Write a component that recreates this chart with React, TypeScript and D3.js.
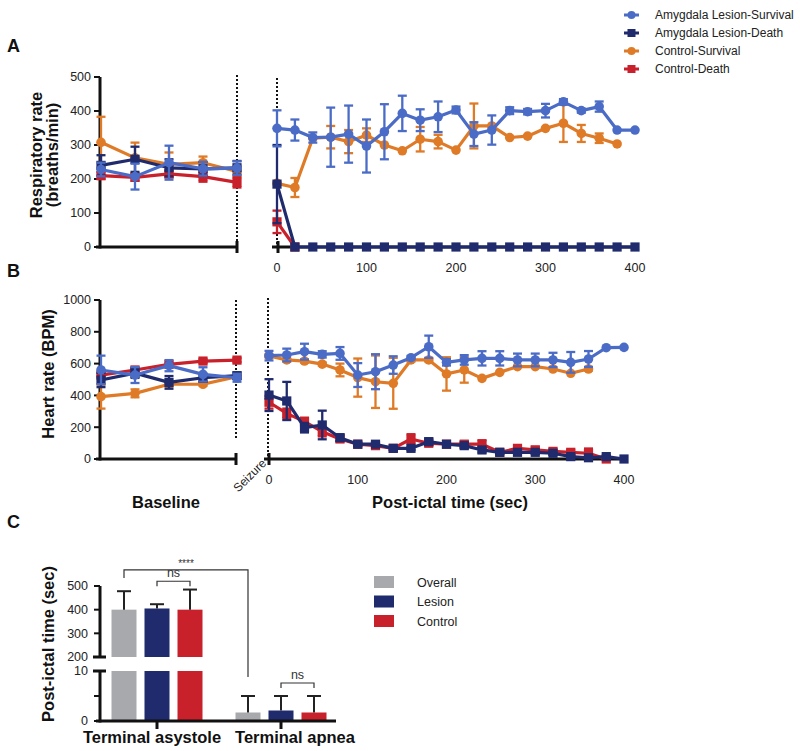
import React from 'react';
import * as d3 from 'd3';

const FONT = 'Liberation Sans, Arial, Helvetica, sans-serif';

const BLUE = '#4b6cc6';
const NAVY = '#1f2b6c';
const ORANGE = '#df7a27';
const RED = '#c9212b';
const GRAY = '#a8a9ad';

// x positions: 5 baseline samples, post-ictal samples every 20 s
const baselinePts = ['b1', 'b2', 'b3', 'b4', 'b5'];
const postTimes = [0, 20, 40, 60, 80, 100, 120, 140, 160, 180, 200, 220, 240, 260, 280, 300, 320, 340, 360, 380, 400];
const postTicks = [0, 100, 200, 300, 400];

// ---- Panel A: respiratory rate (breaths/min)
const lesSurvRespBase = [228, 207, 248, 230, 232];
const lesSurvRespBaseErr = [20, 38, 50, 20, 20];
const lesDeathRespBase = [240, 258, 233, 230, 233];
const lesDeathRespBaseErr = [30, 37, 25, 20, 20];
const ctlSurvRespBase = [308, 262, 243, 248, 222];
const ctlSurvRespBaseErr = [75, 45, 35, 18, 15];
const ctlDeathRespBase = [210, 205, 215, 207, 190];
const ctlDeathRespBaseErr = [10, 10, 10, 15, 15];

const lesSurvRespPost = [349, 344, 322, 323, 332, 297, 339, 393, 373, 383, 403, 332, 344, 401, 398, 401, 427, 401, 413, 344, 344];
const lesSurvRespPostErr = [53, 31, 15, 87, 84, 78, 81, 52, 32, 45, 10, 35, 43, 10, 8, 20, 8, 6, 15, 0, 0];
const ctlSurvRespPost = [187, 175, 320, 323, 310, 329, 300, 283, 317, 310, 285, 356, 356, 322, 326, 349, 364, 334, 320, 303];
const ctlSurvRespPostErr = [0, 28, 0, 33, 34, 20, 0, 0, 36, 20, 0, 66, 0, 0, 0, 0, 55, 25, 14, 0];
const lesDeathRespPost = [185, 0, 0, 0, 0, 0, 0, 0, 0, 0, 0, 0, 0, 0, 0, 0, 0, 0, 0, 0, 0];
const lesDeathRespPostErr = [115, 0, 0, 0, 0, 0, 0, 0, 0, 0, 0, 0, 0, 0, 0, 0, 0, 0, 0, 0, 0];
const ctlDeathRespPost = [74, 0];
const ctlDeathRespPostErr = [33, 0];

// ---- Panel B: heart rate (BPM)
const lesSurvHRBase = [560, 528, 587, 532, 511];
const lesSurvHRBaseErr = [90, 50, 35, 45, 25];
const lesDeathHRBase = [497, 540, 482, 511, 524];
const lesDeathHRBaseErr = [45, 30, 40, 25, 20];
const ctlSurvHRBase = [392, 413, 470, 470, 518];
const ctlSurvHRBaseErr = [75, 25, 15, 10, 10];
const ctlDeathHRBase = [528, 560, 595, 616, 622];
const ctlDeathHRBaseErr = [10, 10, 10, 12, 12];

const lesSurvHRPost = [650, 654, 675, 658, 664, 528, 549, 591, 637, 706, 608, 623, 633, 633, 623, 623, 623, 608, 629, 700, 702];
const lesSurvHRPostErr = [30, 40, 50, 20, 40, 75, 110, 55, 10, 70, 20, 30, 45, 45, 40, 40, 45, 65, 50, 0, 0];
const ctlSurvHRPost = [648, 623, 616, 597, 560, 512, 486, 476, 623, 623, 535, 560, 507, 545, 581, 581, 566, 539, 566];
const ctlSurvHRPostErr = [10, 10, 10, 10, 40, 120, 165, 160, 10, 10, 105, 80, 0, 0, 0, 0, 0, 0, 10];
const ctlDeathHRPost = [357, 287, 235, 172, 126, 93, 84, 67, 126, 99, 93, 93, 93, 42, 67, 57, 48, 42, 36, 0];
const ctlDeathHRPostErr = [40, 30, 25, 30, 15, 10, 10, 10, 30, 15, 15, 20, 25, 10, 20, 20, 15, 15, 30, 10];
const lesDeathHRPost = [402, 365, 197, 214, 134, 93, 93, 67, 67, 109, 93, 84, 57, 42, 42, 42, 36, 15, 8, 15, 0];
const lesDeathHRPostErr = [100, 120, 30, 90, 20, 10, 10, 10, 10, 20, 15, 15, 15, 10, 10, 10, 10, 10, 10, 5, 0];

// ---- Panel C: time of terminal event
const cGroups = ['Terminal asystole', 'Terminal apnea'];
const cKeys = ['Overall', 'Lesion', 'Control'];
const overallTime = [400, 1.7];
const overallErr = [78, 3.3];
const lesionTime = [405, 2.1];
const lesionErr = [18, 2.9];
const controlTime = [400, 1.7];
const controlErr = [85, 3.3];

const legendNames = ['Amygdala Lesion-Survival', 'Amygdala Lesion-Death', 'Control-Survival', 'Control-Death'];

function Series({ xs, vals, errs, x, y, color, shape }) {
  const pts = vals.map((v, i) => ({
    x: x(xs[i]), y: y(v), e: errs[i],
    hi: y(v + errs[i]), lo: y(Math.max(0, v - errs[i])),
  }));
  const line = d3.line().x(d => d.x).y(d => d.y);
  return (
    <g>
      {pts.map((p, i) => p.e > 0 && (
        <g key={'e' + i} stroke={color} strokeWidth={2.3}>
          <line x1={p.x} x2={p.x} y1={p.lo} y2={p.hi} />
          <line x1={p.x - 4.5} x2={p.x + 4.5} y1={p.hi} y2={p.hi} />
          <line x1={p.x - 4.5} x2={p.x + 4.5} y1={p.lo} y2={p.lo} />
        </g>
      ))}
      <path d={line(pts)} fill="none" stroke={color} strokeWidth={3.2} strokeLinejoin="round" />
      {pts.map((p, i) => shape === 'circle'
        ? <circle key={'m' + i} cx={p.x} cy={p.y} r={4.8} fill={color} />
        : <rect key={'m' + i} x={p.x - 4.6} y={p.y - 4.6} width={9.2} height={9.2} fill={color} />)}
    </g>
  );
}

function YAxis({ y, ticks, x0 }) {
  const [a, b] = y.range();
  return (
    <g fontFamily={FONT} fontSize={12.5} fill="#222">
      <line x1={x0} x2={x0} y1={a + 1.5} y2={b} stroke="#111" strokeWidth={3} />
      {ticks.map(t => (
        <g key={t}>
          <line x1={x0 - 6} x2={x0} y1={y(t)} y2={y(t)} stroke="#111" strokeWidth={2} />
          <text x={x0 - 9} y={y(t)} dy="0.35em" textAnchor="end">{t}</text>
        </g>
      ))}
    </g>
  );
}

function Panel({ y, yTicks, xPost, baseline, post, dotTop, baseAxisEnd, postAxisStart, postCap, labelY }) {
  const xBase = d3.scalePoint().domain(baselinePts).range([101, 237]);
  const y0 = y(0);
  const order = [2, 3, 1, 0];
  const colors = [BLUE, NAVY, ORANGE, RED];
  const shapes = ['circle', 'square', 'circle', 'square'];
  return (
    <g>
      <YAxis y={y} ticks={yTicks} x0={100} />
      <line x1={96} x2={baseAxisEnd} y1={y0} y2={y0} stroke="#111" strokeWidth={3} />
      <line x1={baseAxisEnd} x2={baseAxisEnd} y1={y0 - 6} y2={y0 + 6} stroke="#111" strokeWidth={3} />
      <line x1={baseAxisEnd} x2={baseAxisEnd} y1={dotTop[0]} y2={dotTop[1]} stroke="#111" strokeWidth={2} strokeDasharray="2,2" />
      <line x1={postAxisStart - 5} x2={xPost(400) + 2} y1={y0} y2={y0} stroke="#111" strokeWidth={3} />
      <line x1={postCap} x2={postCap} y1={y0 - 6} y2={y0 + 6} stroke="#111" strokeWidth={3} />
      <line x1={postCap - 1} x2={postCap - 1} y1={dotTop[2]} y2={y0} stroke="#111" strokeWidth={2} strokeDasharray="2,2" />
      {postTicks.map(t => (
        <text key={t} x={xPost(t)} y={labelY} textAnchor="middle" fontFamily={FONT} fontSize={12.5} fill="#222">{t}</text>
      ))}
      {order.map(k => (
        <g key={k}>
          <Series xs={baselinePts} vals={baseline[k][0]} errs={baseline[k][1]} x={xBase} y={y} color={colors[k]} shape={shapes[k]} />
          <Series xs={postTimes} vals={post[k][0]} errs={post[k][1]} x={xPost} y={y} color={colors[k]} shape={shapes[k]} />
        </g>
      ))}
    </g>
  );
}

function PanelC() {
  const yLow = d3.scaleLinear().domain([0, 10]).range([721, 671]);
  const yHigh = d3.scaleLinear().domain([200, 500]).range([657, 586]);
  const xg = d3.scaleBand().domain(cGroups).range([95, 343]);
  const xi = d3.scaleBand().domain(cKeys).range([16.5, 107.5]).paddingInner(8 / 33).paddingOuter(0);
  const vals = [overallTime, lesionTime, controlTime];
  const errs = [overallErr, lesionErr, controlErr];
  const colors = [GRAY, NAVY, RED];
  const yv = v => (v > 10 ? yHigh(v) : yLow(v));
  const cx = (g, k) => xg(g) + xi(k) + xi.bandwidth() / 2;
  const bars = [];
  cGroups.forEach((g, gi) => cKeys.forEach((k, ki) => {
    const v = vals[ki][gi];
    const e = errs[ki][gi];
    const x0 = xg(g) + xi(k);
    const w = xi.bandwidth();
    const c = cx(g, k);
    bars.push(
      <g key={g + k}>
        {v > 10 ? (
          <>
            <rect x={x0} y={yLow(10)} width={w} height={yLow(0) - yLow(10)} fill={colors[ki]} />
            <rect x={x0} y={yHigh(v)} width={w} height={yHigh(200) - yHigh(v)} fill={colors[ki]} />
          </>
        ) : (
          <rect x={x0} y={yLow(v)} width={w} height={yLow(0) - yLow(v)} fill={colors[ki]} />
        )}
        <line x1={c} x2={c} y1={yv(v)} y2={yv(v + e)} stroke="#222" strokeWidth={2} />
        <line x1={c - 7} x2={c + 7} y1={yv(v + e)} y2={yv(v + e)} stroke="#222" strokeWidth={2} />
      </g>
    );
  }));
  const a = cGroups[0], b = cGroups[1];
  const brTop = yHigh(568);
  const ns1 = yHigh(520);
  const ns2 = yLow(7.6);
  return (
    <g fontFamily={FONT}>
      {bars}
      <g stroke="#111" strokeWidth={3}>
        <line x1={100} x2={100} y1={yHigh(500)} y2={yHigh(200)} />
        <line x1={100} x2={100} y1={yLow(10)} y2={yLow(0) + 1.5} />
        <line x1={93} x2={106} y1={yHigh(200)} y2={yHigh(200)} />
        <line x1={93} x2={106} y1={yLow(10)} y2={yLow(10)} />
        <line x1={96} x2={336} y1={yLow(0)} y2={yLow(0)} />
        {cGroups.map(g => <line key={g} x1={xg(g) + xg.bandwidth() / 2} x2={xg(g) + xg.bandwidth() / 2} y1={yLow(0)} y2={yLow(0) + 8} />)}
      </g>
      <g stroke="#111" strokeWidth={2}>
        {[500, 400, 300].map(t => <line key={t} x1={94} x2={100} y1={yHigh(t)} y2={yHigh(t)} />)}
        <line x1={94} x2={100} y1={yLow(5)} y2={yLow(5)} />
        <line x1={94} x2={100} y1={yLow(0)} y2={yLow(0)} />
      </g>
      <g fontSize={12.5} fill="#222" textAnchor="end">
        {[500, 400, 300, 200].map(t => <text key={t} x={88} y={yHigh(t)} dy="0.35em">{t}</text>)}
        <text x={88} y={yLow(10)} dy="0.35em">10</text>
        <text x={88} y={yLow(0)} dy="0.35em">0</text>
      </g>
      <g fill="none" stroke="#333" strokeWidth={1.2}>
        <polyline points={`${cx(a, 'Overall')},${brTop + 8} ${cx(a, 'Overall')},${brTop} ${cx(b, 'Overall')},${brTop} ${cx(b, 'Overall')},${yLow(8.8)}`} />
        <polyline points={`${cx(a, 'Lesion')},${ns1 + 5} ${cx(a, 'Lesion')},${ns1} ${cx(a, 'Control')},${ns1} ${cx(a, 'Control')},${ns1 + 5}`} />
        <polyline points={`${cx(b, 'Lesion')},${ns2 + 5} ${cx(b, 'Lesion')},${ns2} ${cx(b, 'Control')},${ns2} ${cx(b, 'Control')},${ns2 + 5}`} />
      </g>
      <g fontSize={12.5} textAnchor="middle">
        <text x={(cx(a, 'Overall') + cx(b, 'Overall')) / 2} y={brTop - 3} fontSize={10} fill="#333">****</text>
        <text x={(cx(a, 'Lesion') + cx(a, 'Control')) / 2} y={ns1 - 4} fill="#333">ns</text>
        <text x={(cx(b, 'Lesion') + cx(b, 'Control')) / 2} y={ns2 - 4} fill="#333">ns</text>
      </g>
      <g fontSize={16.5} fontWeight="bold" fill="#111" textAnchor="middle">
        <text x={152} y={743}>{cGroups[0]}</text>
        <text x={295} y={743}>{cGroups[1]}</text>
      </g>
      {cKeys.map((k, i) => (
        <g key={k}>
          <rect x={374} y={576 + i * 19.5} width={20} height={12} fill={colors[i]} />
          <text x={417} y={586.5 + i * 19.5} fontSize={12.5} fill="#222">{k}</text>
        </g>
      ))}
    </g>
  );
}

export default function App() {
  const yA = d3.scaleLinear().domain([0, 500]).range([247, 77]);
  const yB = d3.scaleLinear().domain([0, 1000]).range([459, 300]);
  const xPostA = d3.scaleLinear().domain([0, 400]).range([277, 635]);
  const xPostB = d3.scaleLinear().domain([0, 400]).range([269, 624]);
  const baseA = [
    [lesSurvRespBase, lesSurvRespBaseErr], [lesDeathRespBase, lesDeathRespBaseErr],
    [ctlSurvRespBase, ctlSurvRespBaseErr], [ctlDeathRespBase, ctlDeathRespBaseErr],
  ];
  const postA = [
    [lesSurvRespPost, lesSurvRespPostErr], [lesDeathRespPost, lesDeathRespPostErr],
    [ctlSurvRespPost, ctlSurvRespPostErr], [ctlDeathRespPost, ctlDeathRespPostErr],
  ];
  const baseB = [
    [lesSurvHRBase, lesSurvHRBaseErr], [lesDeathHRBase, lesDeathHRBaseErr],
    [ctlSurvHRBase, ctlSurvHRBaseErr], [ctlDeathHRBase, ctlDeathHRBaseErr],
  ];
  const postB = [
    [lesSurvHRPost, lesSurvHRPostErr], [lesDeathHRPost, lesDeathHRPostErr],
    [ctlSurvHRPost, ctlSurvHRPostErr], [ctlDeathHRPost, ctlDeathHRPostErr],
  ];
  const legColors = [BLUE, NAVY, ORANGE, RED];
  return (
    <svg width={800} height={751} style={{ position: 'absolute', left: 0, top: 0, background: '#fff' }} fontFamily={FONT}>
      <rect width={800} height={751} fill="#fff" />
      <g fontWeight="bold" fontSize={18} fill="#111">
        <text x={7} y={52}>A</text>
        <text x={7} y={277}>B</text>
        <text x={7} y={528}>C</text>
      </g>
      <Panel y={yA} yTicks={[0, 100, 200, 300, 400, 500]} xPost={xPostA} baseline={baseA} post={postA}
        dotTop={[75, 247, 78]} baseAxisEnd={237} postAxisStart={277} postCap={278} labelY={272} />
      <Panel y={yB} yTicks={[0, 200, 400, 600, 800, 1000]} xPost={xPostB} baseline={baseB} post={postB}
        dotTop={[300, 440, 298]} baseAxisEnd={236} postAxisStart={269} postCap={269} labelY={484} />
      <PanelC />
      <g fontWeight="bold" fontSize={16.5} fill="#111" textAnchor="middle">
        <text transform="translate(42,155) rotate(-90)">Respiratory rate</text>
        <text transform="translate(58,155) rotate(-90)">(breaths/min)</text>
        <text transform="translate(54,374) rotate(-90)">Heart rate (BPM)</text>
        <text transform="translate(54,644) rotate(-90)">Post-ictal time (sec)</text>
        <text x={166} y={508}>Baseline</text>
        <text x={450} y={508}>Post-ictal time (sec)</text>
      </g>
      <text transform="translate(267,464) rotate(-45)" textAnchor="end" fontSize={12} fill="#222">Seizure</text>
      {legendNames.map((n, i) => (
        <g key={n} transform={`translate(0,${15 + i * 18})`}>
          <line x1={624} x2={639} y1={0} y2={0} stroke={legColors[i]} strokeWidth={3} />
          {i % 2 === 0
            ? <circle cx={631.5} cy={0} r={4} fill={legColors[i]} />
            : <rect x={627.5} y={-4} width={8} height={8} fill={legColors[i]} />}
          <text x={655} y={0} dy="0.35em" fontSize={12} fill="#222">{n}</text>
        </g>
      ))}
    </svg>
  );
}
